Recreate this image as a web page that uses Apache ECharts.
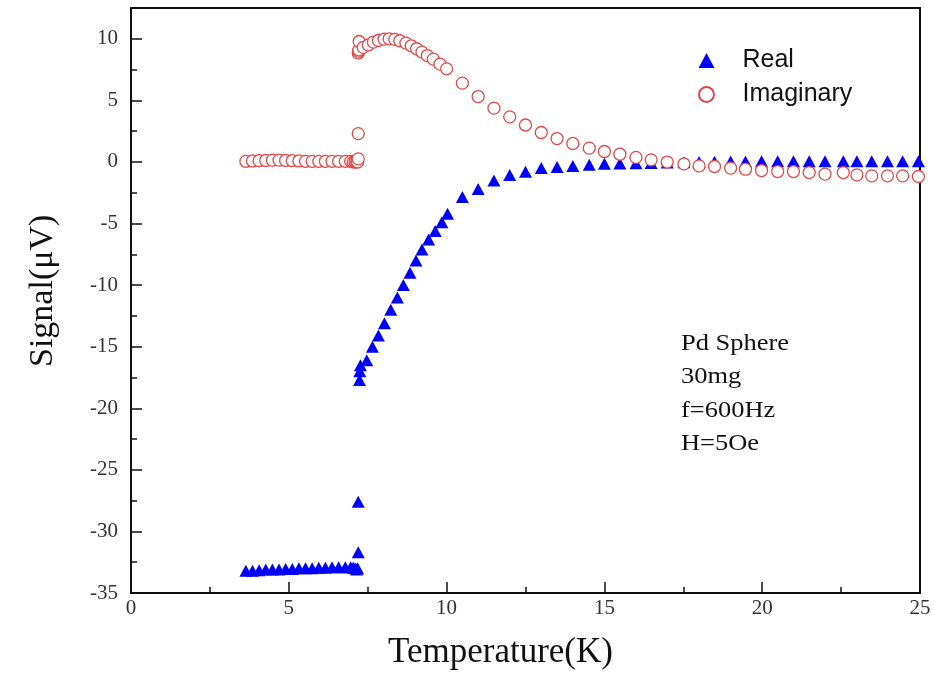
<!DOCTYPE html>
<html>
<head>
<meta charset="utf-8">
<script src="https://cdn.jsdelivr.net/npm/echarts@6/dist/echarts.min.js"></script>
<style>html,body{margin:0;padding:0;background:#fff;}#c{width:934px;height:679px;}</style>
</head>
<body>
<div id="c"></div>
<script>
// ---- data ----
var realT = [3.64,3.85,4.06,4.27,4.48,4.69,4.90,5.11,5.32,5.53,5.74,5.95,6.16,6.37,6.58,6.79,6.96,7.04,7.10,7.15,7.18,
  7.20,7.20,7.24,7.25,7.27,7.47,7.65,7.84,8.03,8.23,8.44,8.63,8.84,9.03,9.22,9.43,9.64,9.85,10.03,
  10.50,11.00,11.50,12.00,12.50,13.00,13.50,14.00,
  14.52,15.00,15.49,16.00,16.48,16.99,17.52,18.00,18.49,19.00,19.47,19.98,20.49,20.99,21.49,21.99,22.57,23.00,23.47,23.97,24.45,24.95];
var realV = [-33.2,-33.2,-33.15,-33.1,-33.1,-33.1,-33.05,-33.05,-33.0,-33.0,-33.0,-32.95,-32.95,-32.9,-32.9,-32.9,-32.9,-32.95,-33.0,-33.1,-33.0,
  -31.7,-27.6,-17.7,-17.0,-16.5,-16.1,-15.0,-14.1,-13.1,-12.0,-11.0,-10.0,-9.0,-8.0,-7.1,-6.3,-5.6,-4.9,-4.2,
  -2.85,-2.2,-1.5,-1.05,-0.8,-0.5,-0.42,-0.32,
  -0.22,-0.15,-0.12,-0.1,-0.08,-0.05,-0.02,0.0,0.02,0.03,0.04,0.05,0.05,0.05,0.05,0.05,0.05,0.05,0.05,0.05,0.05,0.05];
var imagT = [3.64,3.85,4.06,4.27,4.48,4.69,4.90,5.11,5.32,5.53,5.74,5.95,6.16,6.37,6.58,6.79,6.96,7.04,7.10,7.15,7.18,
  7.20,7.20,7.20,7.21,7.22,7.23,7.36,7.52,7.68,7.84,8.02,8.18,8.36,8.52,8.71,8.88,9.05,9.22,9.39,9.58,9.79,10.00,
  10.50,11.00,11.50,12.00,12.50,13.00,13.50,14.00,
  14.52,15.00,15.49,16.00,16.48,16.99,17.52,18.00,18.49,19.00,19.47,19.98,20.49,20.99,21.49,21.99,22.57,23.00,23.47,23.97,24.45,24.95];
var imagV = [0.05,0.08,0.1,0.12,0.15,0.15,0.12,0.1,0.08,0.05,0.05,0.05,0.05,0.05,0.05,0.05,0.05,0.0,0.0,0.0,0.0,
  0.25,2.3,8.85,9.0,9.1,9.78,9.3,9.5,9.73,9.86,9.97,10.0,9.95,9.84,9.65,9.43,9.19,8.92,8.64,8.35,7.94,7.56,
  6.4,5.31,4.37,3.66,3.0,2.39,1.9,1.5,
  1.12,0.85,0.63,0.37,0.17,-0.01,-0.16,-0.32,-0.37,-0.5,-0.59,-0.7,-0.78,-0.78,-0.86,-0.99,-0.86,-1.05,-1.13,-1.13,-1.13,-1.18];
var seriesNames = ['Real', 'Imaginary'];
var xTitle = 'Temperature(K)';
var yTitle = 'Signal(\u03bcV)';
var noteLines = ['Pd Sphere', '30mg', 'f=600Hz', 'H=5Oe'];

function pairs(a, b) { return a.map(function (t, i) { return [t, b[i]]; }); }

var serif = '"Liberation Serif", "Times New Roman", serif';
var sans = '"Liberation Sans", Arial, sans-serif';

var chart = echarts.init(document.getElementById('c'), null, {renderer: 'canvas'});
chart.setOption({
  backgroundColor: '#fff',
  animation: false,
  grid: {left: 131, right: 14, top: 8, bottom: 86, show: true, borderColor: '#111', borderWidth: 2, backgroundColor: 'transparent'},
  legend: {
    orient: 'vertical', left: 693, top: 43, itemWidth: 16, itemHeight: 15, itemGap: 9,
    data: seriesNames,
    textStyle: {fontFamily: sans, fontSize: 25, color: '#111', padding: [0, 0, 0, 23]}
  },
  xAxis: {
    type: 'value', min: 0, max: 25, interval: 5,
    axisLine: {show: true, onZero: false, lineStyle: {color: '#111', width: 2}},
    axisTick: {show: true, inside: true, length: 11, lineStyle: {color: '#111', width: 1.5}},
    minorTick: {show: true, splitNumber: 2, length: 6, lineStyle: {color: '#111', width: 1.5}},
    splitLine: {show: false},
    axisLabel: {fontFamily: serif, fontSize: 21, color: '#333', margin: 5}
  },
  yAxis: [{
    type: 'value', min: -35, max: 12.5, interval: 5,
    axisLine: {show: true, onZero: false, lineStyle: {color: '#111', width: 2}},
    axisTick: {show: true, inside: true, length: 11, lineStyle: {color: '#111', width: 1.5}},
    splitLine: {show: false},
    axisLabel: {fontFamily: serif, fontSize: 21, color: '#333', margin: 13, showMaxLabel: false}
  }, {
    type: 'value', min: -35, max: 12.5, interval: 2.5, position: 'left',
    axisLine: {show: false},
    axisTick: {show: true, inside: true, length: 6, lineStyle: {color: '#111', width: 1.5}},
    splitLine: {show: false},
    axisLabel: {show: false}
  }],
  series: [{
    name: seriesNames[0], type: 'scatter', yAxisIndex: 0,
    symbol: 'triangle', symbolSize: [13, 12],
    itemStyle: {color: '#0000ff', opacity: 1},
    emphasis: {disabled: true},
    data: pairs(realT, realV)
  }, {
    name: seriesNames[1], type: 'scatter', yAxisIndex: 0,
    symbol: 'circle', symbolSize: 12,
    itemStyle: {color: '#ffffff', borderColor: '#e04848', borderWidth: 1.3, opacity: 1},
    emphasis: {disabled: true},
    data: pairs(imagT, imagV)
  }],
  graphic: [{
    type: 'text', left: 388, top: 635,
    style: {text: xTitle, font: '35px ' + serif, fill: '#111'}
  }, {
    type: 'text', x: 26, y: 367, rotation: Math.PI / 2,
    style: {text: yTitle, font: '34px ' + serif, fill: '#111', textVerticalAlign: 'top'}
  }, {
    type: 'text', x: 681, y: 327, scaleX: 1.15, scaleY: 1,
    style: {text: noteLines.join('\n'), font: '23px ' + serif, lineHeight: 33.5, fill: '#111'}
  }]
});
</script>
</body>
</html>
